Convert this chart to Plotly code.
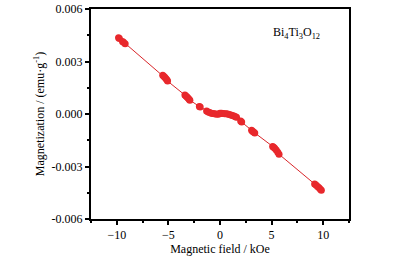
import plotly.graph_objects as go

field = [-9.83, -9.75, -9.45, -9.35, -9.19,
         -5.55, -5.45, -5.35, -5.25, -5.15, -5.08,
         -3.40, -3.30, -3.20, -3.10, -3.00, -2.92,
         -2.00, -1.92,
         -1.30, -1.15, -1.00, -0.85, -0.70, -0.55, -0.40, -0.25, -0.10, 0.00,
         0.15, 0.30, 0.45, 0.60, 0.75, 0.90, 1.05, 1.20, 1.35, 1.50, 1.60,
         2.00, 2.10,
         3.06, 3.15, 3.25, 3.37,
         5.10, 5.20, 5.30, 5.45, 5.60, 5.72,
         9.17, 9.30, 9.45, 9.60, 9.72, 9.82]
magn = [0.00436, 0.00432, 0.00414, 0.00410, 0.00401,
        0.00222, 0.00216, 0.00210, 0.00203, 0.00196, 0.00188,
        0.00108, 0.00103, 0.00097, 0.00091, 0.00085, 0.00079,
        0.00043, 0.00040,
        0.00017, 0.00012, 0.00008, 0.00005, 0.00003, 0.00001, 0.00000, -0.00001, 0.00000, 0.00005,
        0.00004, 0.00003, 0.00002, 0.00002, 0.00000, -0.00003, -0.00006, -0.00009, -0.00012, -0.00015, -0.00018,
        -0.00040, -0.00046,
        -0.00093, -0.00098, -0.00103, -0.00108,
        -0.00185, -0.00190, -0.00196, -0.00205, -0.00218, -0.00230,
        -0.00400, -0.00406, -0.00414, -0.00422, -0.00430, -0.00436]

x_ticks = [-10, -5, 0, 5, 10]
y_ticks = [-0.006, -0.003, 0.0, 0.003, 0.006]
y_tick_labels = ["-0.006", "-0.003", "0.000", "0.003", "0.006"]

serif = "Liberation Serif"

fig = go.Figure()
fig.add_trace(go.Scatter(
    x=field, y=magn, mode="lines+markers",
    line=dict(color="#d9262a", width=1),
    marker=dict(color="#e8282c", size=7),
    showlegend=False,
))

fig.add_annotation(
    x=0.795, y=0.885, xref="paper", yref="paper", xanchor="center", yanchor="middle",
    text="Bi<sub>4</sub>Ti<sub>3</sub>O<sub>12</sub>",
    showarrow=False, font=dict(family=serif, size=12, color="black"),
)

axis_common = dict(
    showline=True, linecolor="black", linewidth=2, mirror=True,
    ticks="outside", ticklen=4, tickwidth=2, tickcolor="black",
    showgrid=False, zeroline=False,
    tickfont=dict(family=serif, size=12, color="black"),
)

fig.update_xaxes(
    range=[-12.5, 12.5], tickvals=x_ticks,
    minor=dict(ticks="outside", ticklen=2, tickwidth=2, tickcolor="black", dtick=2.5, tick0=-12.5, showgrid=False),
    title=dict(text="Magnetic field / kOe", font=dict(family=serif, size=12, color="black"), standoff=1),
    **axis_common,
)
fig.update_yaxes(
    range=[-0.006, 0.006], tickvals=y_ticks, ticktext=y_tick_labels,
    minor=dict(ticks="outside", ticklen=2, tickwidth=2, tickcolor="black", dtick=0.0015, tick0=0, showgrid=False),
    title=dict(text="Magnetization / (emu·g<sup>-1</sup>)", font=dict(family=serif, size=12, color="black"), standoff=4),
    **axis_common,
)

fig.update_layout(
    width=397, height=257,
    margin=dict(l=91, r=48, t=9, b=38, autoexpand=False),
    paper_bgcolor="white", plot_bgcolor="white",
)

fig.write_html("out.html", config={"displayModeBar": False},
               post_script="document.body.style.margin='0';")
